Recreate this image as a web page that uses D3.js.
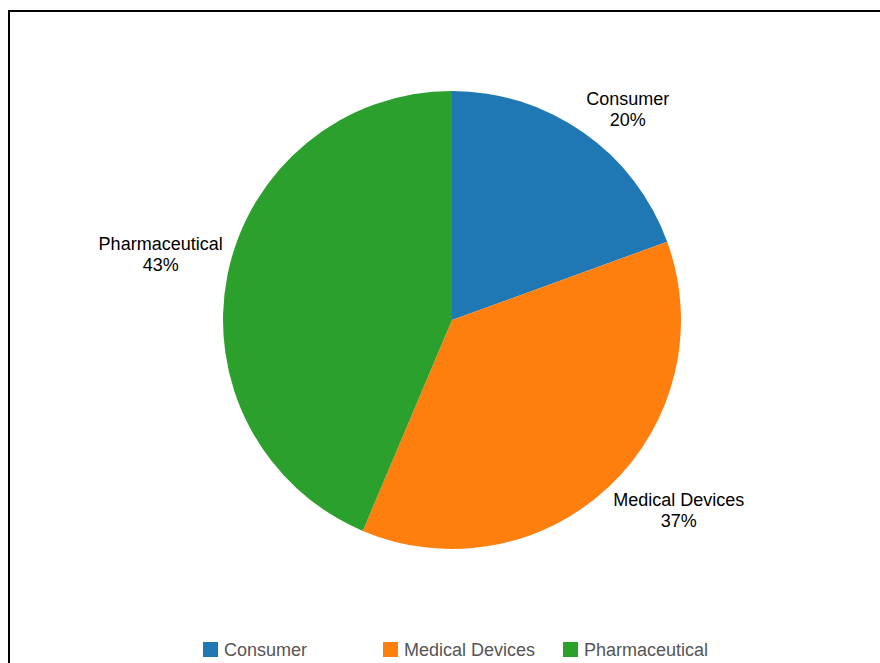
<!DOCTYPE html>
<html>
<head>
<meta charset="utf-8">
<script src="https://cdn.jsdelivr.net/npm/d3@7"></script>
<style>
	html, body { margin: 0; padding: 0; background: #fff; overflow: hidden; }
	svg { display: block; font-family: "Liberation Sans", Arial, sans-serif; }
	.sliceLabel { font-size: 18px; fill: #000; }
	.legendText { font-size: 18px; fill: #555; }
</style>
</head>
<body>
<script>
(function(){

	//chart data
	var categories = ["Consumer", "Medical Devices", "Pharmaceutical"];
	var shares = [19.45, 36.92, 43.63]; //slice sizes
	var pctLabels = ["20%", "37%", "43%"]; //percent text as printed
	var colors = ["#1f77b4", "#ff7f0e", "#2ca02c"];

	//frame dimensions
	var width = 880,
		height = 663,
		cx = 452,
		cy = 320,
		radius = 229,
		labelGap = 5,
		lineHeight = 21;

	window.onload = setChart();

	function setChart(){
		var svg = d3.select("body")
			.append("svg")
			.attr("width", width)
			.attr("height", height);

		//outer frame, runs off the right and bottom edges
		svg.append("rect")
			.attr("x", 9)
			.attr("y", 11)
			.attr("width", 1000)
			.attr("height", 1000)
			.style("fill", "none")
			.style("stroke", "#000")
			.style("stroke-width", 2);

		var color = d3.scaleOrdinal()
			.domain(categories)
			.range(colors);

		var pie = d3.pie()
			.sort(null)
			.value(function(d){ return d.value; });

		var rows = categories.map(function(c, i){
			return { name: c, value: shares[i], pct: pctLabels[i] };
		});
		var arcs = pie(rows);

		var arc = d3.arc()
			.innerRadius(0)
			.outerRadius(radius);

		var labelArc = d3.arc()
			.innerRadius(radius + labelGap)
			.outerRadius(radius + labelGap);

		var g = svg.append("g")
			.attr("transform", "translate(" + cx + "," + cy + ")");

		//slices
		g.selectAll(".slice")
			.data(arcs)
			.enter()
			.append("path")
			.attr("class", "slice")
			.attr("d", arc)
			.style("fill", function(d){ return color(d.data.name); });

		//outside labels: the inner corner of each label block sits on the label arc
		var labels = g.selectAll(".sliceLabel")
			.data(arcs)
			.enter()
			.append("text")
			.attr("class", "sliceLabel")
			.attr("text-anchor", "middle");

		labels.append("tspan")
			.attr("class", "l1")
			.text(function(d){ return d.data.name; });
		labels.append("tspan")
			.attr("class", "l2")
			.text(function(d){ return d.data.pct; });

		labels.each(function(d){
			var t = d3.select(this);
			var p = labelArc.centroid(d);
			var w = 0;
			t.selectAll("tspan").each(function(){
				w = Math.max(w, this.getComputedTextLength());
			});
			var x = p[0] >= 0 ? p[0] + w / 2 : p[0] - w / 2;
			var y1, y2;
			if (p[1] < 0){
				//block above the point
				y2 = p[1] - 2;
				y1 = y2 - lineHeight;
			} else {
				//block below the point
				y1 = p[1] + 16;
				y2 = y1 + lineHeight;
			}
			t.select(".l1").attr("x", x).attr("y", y1);
			t.select(".l2").attr("x", x).attr("y", y2);
		});

		//legend along the bottom
		var legendX = d3.scalePoint()
			.domain(categories)
			.range([203, 563]);

		var legend = svg.selectAll(".legendItem")
			.data(categories)
			.enter()
			.append("g")
			.attr("class", "legendItem")
			.attr("transform", function(d){
				return "translate(" + legendX(d) + ",642)";
			});

		legend.append("rect")
			.attr("width", 15)
			.attr("height", 15)
			.style("fill", function(d){ return color(d); });

		legend.append("text")
			.attr("class", "legendText")
			.attr("x", 21)
			.attr("y", 14)
			.text(function(d){ return d; });
	};
})();
</script>
</body>
</html>
